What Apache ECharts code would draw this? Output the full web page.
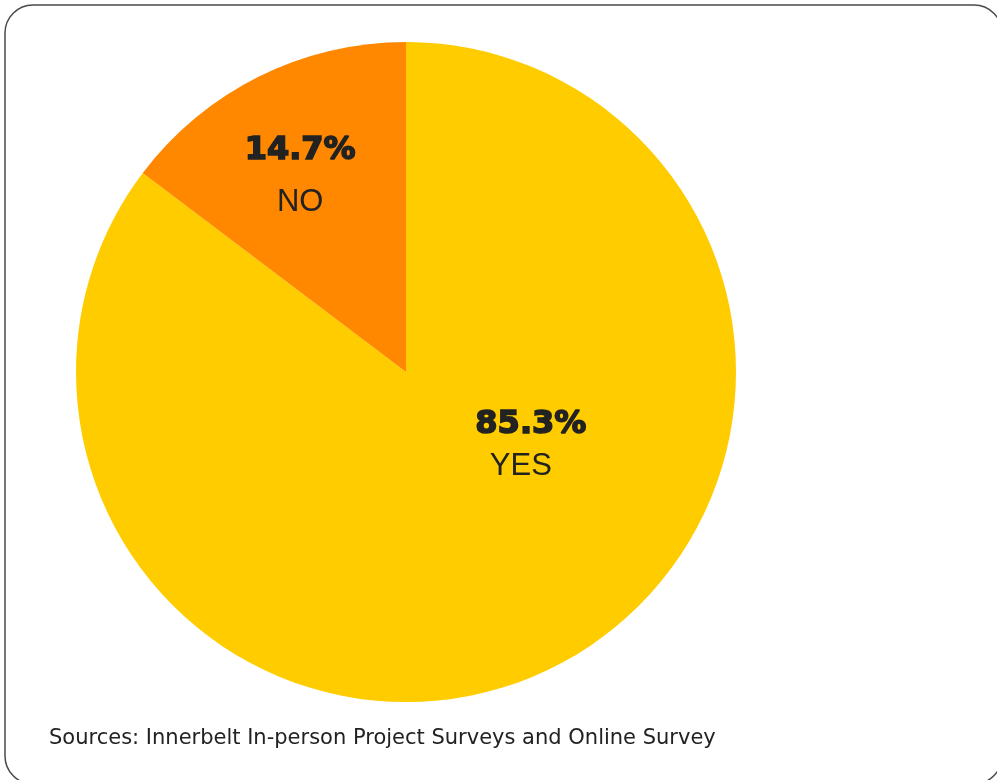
<!DOCTYPE html>
<html>
<head>
<meta charset="utf-8">
<script src="https://cdn.jsdelivr.net/npm/echarts@6/dist/echarts.min.js"></script>
<style>
  html, body { margin: 0; padding: 0; background: #ffffff; }
  #chart { width: 997px; height: 780px; }
</style>
</head>
<body>
<div id="chart"></div>
<script>
// Survey answers
const answers = ['YES', 'NO'];
const shares = [85.3, 14.7];
const sliceColors = ['#FFCC00', '#FF8800'];
const sourceNote = 'Sources: Innerbelt In-person Project Surveys and Online Survey';

// per-slice label placement (nudged from the default inside anchor)
const labelOffsets = [[50, -77], [-31, -45]];
const labelGaps = [42, 51];

const chart = echarts.init(document.getElementById('chart'));

const pieData = answers.map((name, i) => ({
  name: name,
  value: shares[i],
  itemStyle: { color: sliceColors[i] },
  label: {
    offset: labelOffsets[i],
    rich: {
      pct: {
        fontFamily: '"DejaVu Sans", sans-serif',
        fontWeight: 'bold',
        fontSize: 32,
        color: '#222222',
        textBorderColor: '#222222',
        textBorderWidth: 1.6,
        lineHeight: labelGaps[i],
        align: 'center'
      },
      nm: {
        fontFamily: '"Liberation Sans", Arial, sans-serif',
        fontSize: 31,
        color: '#222222',
        lineHeight: labelGaps[i],
        align: 'center',
        padding: i === 0 ? [0, 20, 0, 0] : 0
      }
    }
  }
}));

chart.setOption({
  animation: false,
  backgroundColor: '#ffffff',
  graphic: [
    {
      type: 'rect',
      shape: { x: 5, y: 5, width: 997, height: 779, r: 28 },
      style: { fill: 'none', stroke: '#4a4a4a', lineWidth: 1.5 },
      z: -1
    },
    {
      type: 'text',
      left: 49,
      top: 728,
      style: {
        text: sourceNote,
        font: '21px "DejaVu Sans", sans-serif',
        fill: '#222222'
      }
    }
  ],
  series: [{
    type: 'pie',
    center: [406, 372],
    radius: [0, 330],
    startAngle: 90,
    clockwise: true,
    silent: true,
    label: {
      show: true,
      position: 'inside',
      formatter: p => '{pct|' + p.value.toFixed(1) + '%}\n{nm|' + p.name + '}'
    },
    labelLine: { show: false },
    itemStyle: { borderWidth: 0 },
    data: pieData
  }]
});
</script>
</body>
</html>
